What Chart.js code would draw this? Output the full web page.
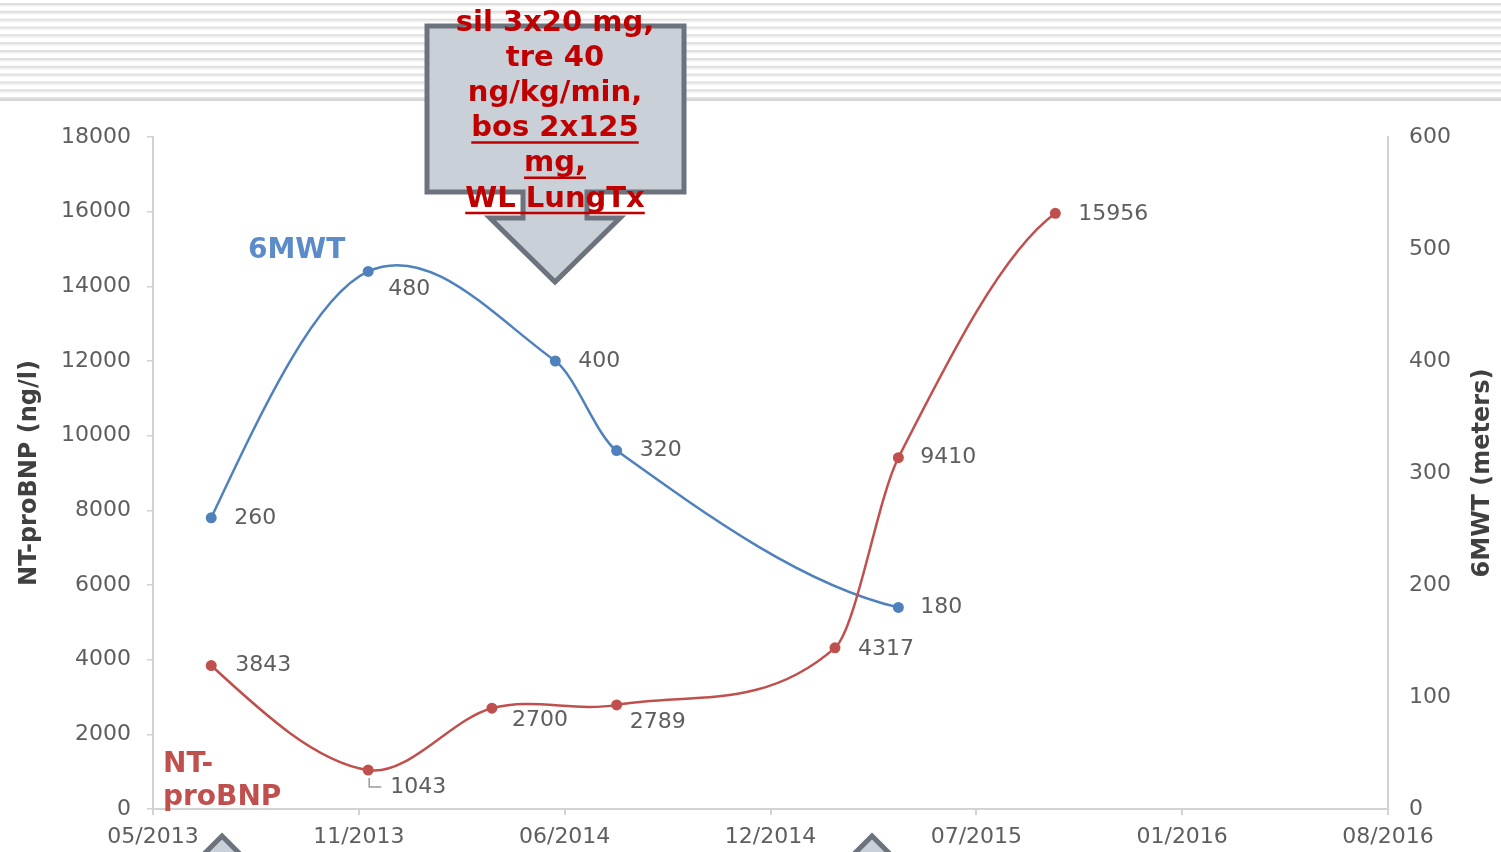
<!DOCTYPE html>
<html>
<head>
<meta charset="utf-8">
<script src="https://cdn.jsdelivr.net/npm/chart.js@4.4.0/dist/chart.umd.min.js"></script>
<style>
  html, body { margin: 0; padding: 0; background: #fff; }
  canvas { display: block; }
</style>
</head>
<body>
<canvas id="trendChart" width="1501" height="852"></canvas>
<script>
// x axis runs in days from the first tick, one tick every 198 days
const axisStart = "2013-05-01";
const tickStepDays = 198;
const xTickLabels = ["05/2013", "11/2013", "06/2014", "12/2014", "07/2015", "01/2016", "08/2016"];

const bnpDates = ["2013-06-26", "2013-11-24", "2014-03-23", "2014-07-21", "2015-02-16", "2015-04-18", "2015-09-16"];
const bnpValues = [3843, 1043, 2700, 2789, 4317, 9410, 15956];

const walkDates = ["2013-06-26", "2013-11-24", "2014-05-23", "2014-07-21", "2015-04-18"];
const walkValues = [260, 480, 400, 320, 180];

const calloutLines = ["sil 3x20 mg,", "tre 40", "ng/kg/min,", "bos 2x125", "mg,", "WL LungTx"];
const calloutUnderlined = [false, false, false, true, true, true];

// label placement relative to each point (dx to text start, dy to text middle)
const bnpLabelOffsets = [[24, 0], [22, 17], [20, 12], [13, 17], [23, 1], [22, 0], [23, 1]];
const walkLabelOffsets = [[23, 0], [20, 18], [23, 0], [23, 0], [22, 0]];

const BLUE = "#4f81bd";
const RED = "#c0504d";
const AXIS_GRAY = "#d2d2d2";
const TEXT_GRAY = "#5e5e5e";
const TICK_FONT = { family: "DejaVu Sans", size: 22 };

function dayOffset(d) {
  return Math.round((Date.parse(d) - Date.parse(axisStart)) / 86400000);
}

const bnpPoints = bnpDates.map((d, i) => ({ x: dayOffset(d), y: bnpValues[i] }));
const walkPoints = walkDates.map((d, i) => ({ x: dayOffset(d), y: walkValues[i] }));

// tangent slopes for a smoothed curve through pixel points:
// centred differences inside, a straight start and a curling end
function curveSlopes(xs, ys) {
  const n = xs.length;
  const s = [];
  for (let i = 0; i < n - 1; i++) s.push((ys[i + 1] - ys[i]) / (xs[i + 1] - xs[i]));
  const m = new Array(n);
  for (let i = 1; i < n - 1; i++) m[i] = (ys[i + 1] - ys[i - 1]) / (xs[i + 1] - xs[i - 1]);
  if (n > 2) {
    m[0] = (3 * s[0] - m[1]) / 2;
    m[n - 1] = 3 * s[n - 2] - 2 * m[n - 2];
  } else {
    m[0] = m[n - 1] = s[0];
  }
  return m;
}

const smoothLines = {
  id: "smoothLines",
  beforeDatasetsDraw(chart) {
    const ctx = chart.ctx;
    ctx.save();
    ctx.lineWidth = 2.5;
    ctx.lineJoin = "round";
    ctx.lineCap = "round";
    // blue first so the red line crosses over it
    [1, 0].forEach((di) => {
      const pts = chart.getDatasetMeta(di).data;
      const xs = pts.map((p) => p.x);
      const ys = pts.map((p) => p.y);
      const m = curveSlopes(xs, ys);
      ctx.strokeStyle = chart.data.datasets[di].borderColor;
      ctx.beginPath();
      ctx.moveTo(xs[0], ys[0]);
      for (let i = 0; i < xs.length - 1; i++) {
        const h = (xs[i + 1] - xs[i]) / 3;
        ctx.bezierCurveTo(xs[i] + h, ys[i] + m[i] * h, xs[i + 1] - h, ys[i + 1] - m[i + 1] * h, xs[i + 1], ys[i + 1]);
      }
      ctx.stroke();
    });
    ctx.restore();
  }
};

const slideBackground = {
  id: "slideBackground",
  beforeDraw(chart) {
    const ctx = chart.ctx;
    ctx.save();
    ctx.fillStyle = "#ffffff";
    ctx.fillRect(0, 0, chart.width, chart.height);
    for (let y = 3; y < 98; y += 7.85) {
      ctx.fillStyle = "#dedede";
      ctx.fillRect(0, y, chart.width, 2);
      ctx.fillStyle = "#f0f0f0";
      ctx.fillRect(0, y + 2, chart.width, 1.5);
    }
    ctx.fillStyle = "#d6d6d6";
    ctx.fillRect(0, 99, chart.width, 2);
    ctx.restore();
  }
};

const valueLabels = {
  id: "valueLabels",
  afterDatasetsDraw(chart) {
    const ctx = chart.ctx;
    const offsets = [bnpLabelOffsets, walkLabelOffsets];
    ctx.save();
    ctx.font = "22px 'DejaVu Sans'";
    ctx.fillStyle = TEXT_GRAY;
    ctx.textAlign = "left";
    ctx.textBaseline = "middle";
    chart.data.datasets.forEach((ds, di) => {
      const meta = chart.getDatasetMeta(di);
      meta.data.forEach((pt, i) => {
        const [dx, dy] = offsets[di][i];
        ctx.fillText(String(ds.data[i].y), pt.x + dx, pt.y + dy);
      });
    });
    // leader line for the 1043 label
    const low = chart.getDatasetMeta(0).data[1];
    ctx.strokeStyle = "#9a9a9a";
    ctx.lineWidth = 1.5;
    ctx.beginPath();
    ctx.moveTo(low.x + 1, low.y + 8);
    ctx.lineTo(low.x + 1, low.y + 17);
    ctx.lineTo(low.x + 13, low.y + 17);
    ctx.stroke();
    ctx.restore();
  }
};

function drawArrowUp(ctx, tipX, tipY) {
  ctx.beginPath();
  ctx.moveTo(tipX, tipY);
  ctx.lineTo(tipX + 66, tipY + 66);
  ctx.lineTo(tipX - 66, tipY + 66);
  ctx.closePath();
  ctx.fill();
  ctx.stroke();
}

const annotations = {
  id: "annotations",
  afterDraw(chart) {
    const ctx = chart.ctx;
    const area = chart.chartArea;
    ctx.save();

    // axis titles
    ctx.fillStyle = "#404040";
    ctx.font = "bold 24px 'DejaVu Sans'";
    ctx.textAlign = "center";
    ctx.textBaseline = "middle";
    const midY = (area.top + area.bottom) / 2;
    ctx.save();
    ctx.translate(30, midY);
    ctx.rotate(-Math.PI / 2);
    ctx.fillText("NT-proBNP (ng/l)", 0, 0);
    ctx.restore();
    ctx.save();
    ctx.translate(1483, midY);
    ctx.rotate(-Math.PI / 2);
    ctx.fillText("6MWT (meters)", 0, 0);
    ctx.restore();

    // series names
    ctx.font = "bold 28px 'DejaVu Sans'";
    ctx.textAlign = "left";
    ctx.fillStyle = "#5b8bc8";
    ctx.fillText("6MWT", 248, 251);
    ctx.fillStyle = RED;
    ctx.fillText("NT-", 163, 765);
    ctx.fillText("proBNP", 163, 798);

    // arrow callout
    ctx.fillStyle = "#c9d0d8";
    ctx.strokeStyle = "#6c737d";
    ctx.lineWidth = 5;
    ctx.lineJoin = "miter";
    ctx.beginPath();
    ctx.moveTo(427, 26);
    ctx.lineTo(684, 26);
    ctx.lineTo(684, 192);
    ctx.lineTo(587, 192);
    ctx.lineTo(587, 218);
    ctx.lineTo(620, 218);
    ctx.lineTo(555, 282);
    ctx.lineTo(490, 218);
    ctx.lineTo(523, 218);
    ctx.lineTo(523, 192);
    ctx.lineTo(427, 192);
    ctx.closePath();
    ctx.fill();
    ctx.stroke();

    ctx.fillStyle = "#c00000";
    ctx.strokeStyle = "#c00000";
    ctx.font = "bold 29px 'DejaVu Sans'";
    ctx.textAlign = "center";
    ctx.textBaseline = "middle";
    ctx.lineWidth = 2.5;
    calloutLines.forEach((line, i) => {
      const y = 23 + i * 35.2;
      ctx.fillText(line, 555, y);
      if (calloutUnderlined[i]) {
        const w = ctx.measureText(line).width;
        ctx.beginPath();
        ctx.moveTo(555 - w / 2, y + 14);
        ctx.lineTo(555 + w / 2, y + 14);
        ctx.stroke();
      }
    });

    // small arrows rising from the bottom edge
    ctx.fillStyle = "#c9d0d8";
    ctx.strokeStyle = "#6c737d";
    ctx.lineWidth = 5;
    drawArrowUp(ctx, 222, 836);
    drawArrowUp(ctx, 872, 836);

    ctx.restore();
  }
};

new Chart(document.getElementById("trendChart").getContext("2d"), {
  type: "line",
  data: {
    datasets: [
      {
        label: "NT-proBNP",
        data: bnpPoints,
        yAxisID: "yLeft",
        borderColor: RED,
        backgroundColor: RED,
        showLine: false,
        pointRadius: 5.5,
        pointBorderWidth: 0
      },
      {
        label: "6MWT",
        data: walkPoints,
        yAxisID: "yRight",
        borderColor: BLUE,
        backgroundColor: BLUE,
        showLine: false,
        pointRadius: 5.5,
        pointBorderWidth: 0
      }
    ]
  },
  options: {
    responsive: false,
    animation: false,
    layout: { padding: { top: 137, left: 0, right: 0, bottom: 0 } },
    plugins: {
      legend: { display: false },
      tooltip: { enabled: false }
    },
    scales: {
      x: {
        type: "linear",
        min: 0,
        max: tickStepDays * (xTickLabels.length - 1),
        afterFit: (scale) => { scale.height = 43; },
        ticks: {
          stepSize: tickStepDays,
          autoSkip: false,
          maxRotation: 0,
          padding: 9,
          color: TEXT_GRAY,
          font: TICK_FONT,
          callback: (v) => xTickLabels[Math.round(v / tickStepDays)] || ""
        },
        grid: { drawOnChartArea: false, color: AXIS_GRAY, tickLength: 6, lineWidth: 2 },
        border: { color: AXIS_GRAY, width: 2 }
      },
      yLeft: {
        position: "left",
        min: 0,
        max: 18000,
        afterFit: (scale) => { scale.width = 153; },
        ticks: { stepSize: 2000, padding: 16, color: TEXT_GRAY, font: TICK_FONT, callback: (v) => String(v) },
        grid: { drawOnChartArea: false, color: AXIS_GRAY, tickLength: 6, lineWidth: 1.5 },
        border: { color: AXIS_GRAY, width: 2 }
      },
      yRight: {
        position: "right",
        min: 0,
        max: 600,
        afterFit: (scale) => { scale.width = 113; },
        ticks: { stepSize: 100, padding: 21, color: TEXT_GRAY, font: TICK_FONT, callback: (v) => String(v) },
        grid: { drawOnChartArea: false, drawTicks: false },
        border: { color: AXIS_GRAY, width: 2 }
      }
    }
  },
  plugins: [slideBackground, smoothLines, valueLabels, annotations]
});
</script>
</body>
</html>
